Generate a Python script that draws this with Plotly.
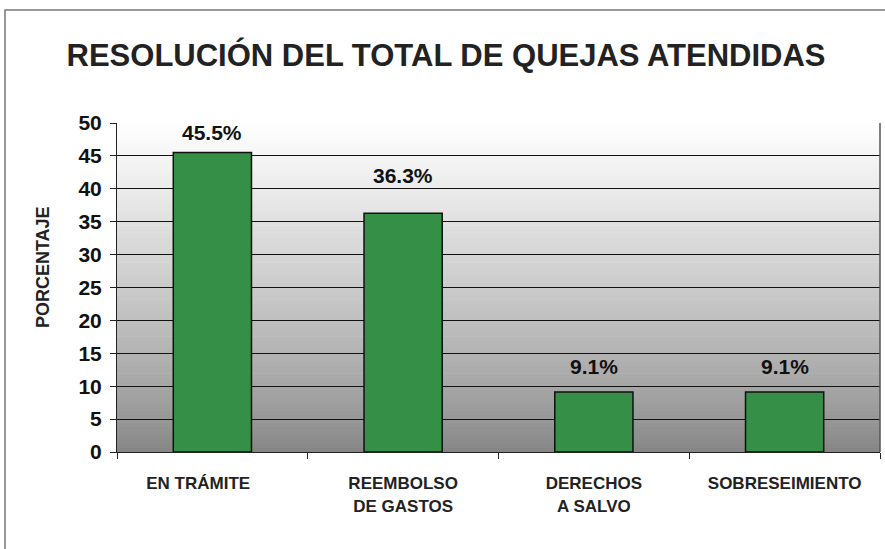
import plotly.graph_objects as go

categories = ["EN TRÁMITE", "REEMBOLSO<br>DE GASTOS", "DERECHOS<br>A SALVO", "SOBRESEIMIENTO"]
values = [45.5, 36.3, 9.1, 9.1]
value_labels = ["45.5%", "36.3%", "9.1%", "9.1%"]
y_ticks = [0, 5, 10, 15, 20, 25, 30, 35, 40, 45, 50]

FONT = "Liberation Sans, Arial, sans-serif"

fig = go.Figure()
fig.add_trace(go.Bar(
    x=categories, y=values, width=0.41,
    marker=dict(color="#358f46", line=dict(color="#111111", width=1.5)),
    hoverinfo="skip",
))

# label offsets (pixels above bar tops)
label_shift = [20, 38, 26, 26]
for c, v, t, s in zip(categories, values, value_labels, label_shift):
    fig.add_annotation(x=c, y=v, text="<b>" + t + "</b>", showarrow=False,
                       yshift=s, font=dict(family=FONT, size=21, color="#111111"))

# y-axis title (placed slightly above centre, as in the original)
fig.add_annotation(text="<b>PORCENTAJE</b>", xref="paper", yref="paper",
                   x=-0.097, y=0.562, textangle=-90, showarrow=False,
                   xanchor="center", yanchor="middle",
                   font=dict(family=FONT, size=18, color="#222222"))

# gradient background stripes
shapes = []
n = 80
top = (255, 255, 255)
bot = (132, 132, 132)
for i in range(n):
    f = (i + 0.5) / n  # 0 at bottom, 1 at top
    g = f ** 0.8
    col = tuple(int(round(bot[k] + (top[k] - bot[k]) * g)) for k in range(3))
    shapes.append(dict(type="rect", xref="x domain", yref="y domain",
                       x0=0, x1=1, y0=i / n, y1=(i + 1) / n + 0.002,
                       fillcolor="rgb(%d,%d,%d)" % col, line=dict(width=0), layer="below"))
# outer border
shapes.append(dict(type="rect", xref="paper", yref="paper",
                   x0=-0.1468, x1=1.02, y0=-0.35, y1=1.3435,
                   line=dict(color="#777777", width=1.5), fillcolor="rgba(0,0,0,0)", layer="above"))
# right border of plot area
shapes.append(dict(type="line", xref="x domain", yref="y domain", x0=1, x1=1, y0=0, y1=1,
                   line=dict(color="#555555", width=1.5)))

# shift first category label slightly left, as in the original
tick_text = [categories[0] + "&nbsp;" * 6] + categories[1:]

fig.update_layout(
    width=885, height=549,
    margin=dict(l=117, r=5, t=123, b=97),
    paper_bgcolor="white", plot_bgcolor="rgba(0,0,0,0)",
    showlegend=False,
    shapes=shapes,
    title=dict(text="<b>RESOLUCIÓN DEL TOTAL DE QUEJAS ATENDIDAS</b>",
               x=0.504, xref="container", xanchor="center",
               y=0.9, yref="container", yanchor="middle",
               font=dict(family=FONT, size=31, color="#222222")),
    xaxis=dict(
        type="category", tickson="boundaries", ticks="outside", ticklen=6,
        tickmode="array", tickvals=categories, ticktext=tick_text,
        tickcolor="#222222", showgrid=False, showline=True, linecolor="#222222", linewidth=1,
        tickfont=dict(family=FONT, size=17, color="#222222", weight="bold"),
        ticklabelstandoff=16, automargin=False,
    ),
    yaxis=dict(
        range=[0, 50], tickvals=y_ticks, ticks="outside", ticklen=6, tickcolor="#222222",
        showgrid=True, gridcolor="#111111", gridwidth=1,
        showline=True, linecolor="#222222", linewidth=1, zeroline=False,
        tickfont=dict(family=FONT, size=21, color="#111111", weight="bold"),
        ticklabelstandoff=4, automargin=False,
    ),
)

fig.write_html("out.html", config={"displayModeBar": False},
               post_script="document.body.style.margin='0';")
